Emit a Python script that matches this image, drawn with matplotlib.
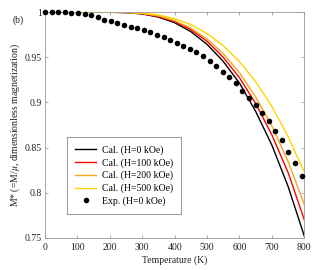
import matplotlib.pyplot as plt

# calculated curves (every 50 K)
T_cal = [0, 50, 100, 150, 200, 250, 300, 350, 400, 450, 500, 550, 600, 650, 700, 750, 800]
M_h0 = [1.0, 1.0, 1.0, 1.0, 0.9999, 0.9995, 0.998, 0.9945, 0.9883, 0.9784, 0.9643, 0.9454,
        0.9214, 0.890, 0.8527, 0.807, 0.752]
M_h100 = [1.0, 1.0, 1.0, 1.0, 0.9999, 0.9996, 0.9983, 0.9952, 0.9896, 0.9806, 0.9677, 0.950,
          0.9274, 0.8988, 0.864, 0.8224, 0.770]
M_h200 = [1.0, 1.0, 1.0, 1.0, 0.9999, 0.9997, 0.9985, 0.9958, 0.9906, 0.9823, 0.9703, 0.954,
          0.933, 0.906, 0.874, 0.8347, 0.787]
M_h500 = [1.0, 1.0, 1.0, 1.0, 1.0, 0.9998, 0.9989, 0.9969, 0.9928, 0.9862, 0.9763, 0.9628,
          0.9452, 0.923, 0.8955, 0.8623, 0.823]

# experimental points
T_exp = [0, 20, 41, 61, 81, 102, 122, 142, 162, 183, 203, 223, 244, 264, 284, 305, 325, 345,
         366, 386, 406, 426, 447, 467, 487, 508, 528, 548, 569, 589, 609, 629, 650, 670, 690,
         711, 731, 751, 772, 792]
M_exp = [1.0, 1.0, 1.0, 0.9997, 0.9995, 0.999, 0.998, 0.9969, 0.9945, 0.9917, 0.990, 0.988,
         0.986, 0.984, 0.982, 0.980, 0.978, 0.975, 0.972, 0.969, 0.966, 0.963, 0.959, 0.956,
         0.951, 0.946, 0.940, 0.934, 0.928, 0.921, 0.913, 0.905, 0.897, 0.888, 0.879, 0.868,
         0.858, 0.845, 0.833, 0.818]

plt.rcParams['font.family'] = 'Liberation Serif'
plt.rcParams['mathtext.fontset'] = 'stix'
fs = 7.0

fig = plt.figure(figsize=(3.22, 2.70), dpi=100)
ax = fig.add_axes([0.14, 0.119, 0.805, 0.836])

ax.plot(T_cal, M_h0, color='black', lw=1.0, label='Cal. (H=0 kOe)')
ax.plot(T_cal, M_h100, color='#ff0000', lw=1.0, label='Cal. (H=100 kOe)')
ax.plot(T_cal, M_h200, color='#f5a623', lw=1.0, label='Cal. (H=200 kOe)')
ax.plot(T_cal, M_h500, color='#ffd400', lw=1.0, label='Cal. (H=500 kOe)')
ax.plot(T_exp, M_exp, 'o', color='black', ms=4.0, mew=0, label='Exp. (H=0 kOe)',
        clip_on=False, zorder=5)

ax.set_xlim(0, 800)
ax.set_ylim(0.75, 1.0)
ax.set_xticks(range(0, 801, 100))
ax.set_yticks([0.75, 0.8, 0.85, 0.9, 0.95, 1.0])
ax.set_yticklabels(['0.75', '0.8', '0.85', '0.9', '0.95', '1'])
ax.tick_params(direction='in', length=2.5, width=0.5, color='0.55', labelsize=fs,
               labelcolor='#222222', top=True, right=True, pad=2.5)
ax.tick_params(axis='x', pad=3.5)
for s in ax.spines.values():
    s.set_color('0.6')
    s.set_linewidth(0.6)

ax.set_xlabel('Temperature (K)', fontsize=fs, color='#222222', labelpad=2.5)
ax.set_ylabel(r'M* (=M/$\mu$, dimensionless magnetization)', fontsize=fs, color='#222222',
              labelpad=2)
fig.text(0.04, 0.915, '(b)', fontsize=fs, color='#222222')

leg = ax.legend(loc='lower left', bbox_to_anchor=(0.085, 0.105), fontsize=fs, frameon=True,
                fancybox=False, edgecolor='0.3', handlelength=2.1, labelspacing=0.32,
                borderpad=0.85, handletextpad=0.6, borderaxespad=0)
leg.get_frame().set_linewidth(0.5)

fig.savefig('out.png', dpi=100)
